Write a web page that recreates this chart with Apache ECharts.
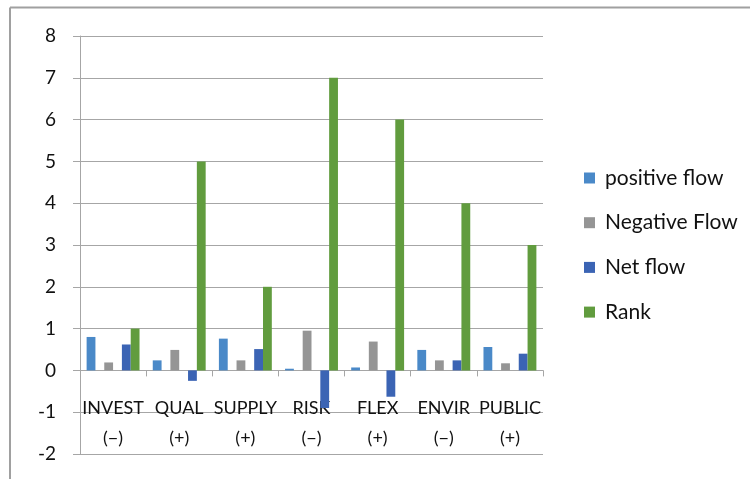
<!DOCTYPE html>
<html>
<head>
    <meta charset="utf-8">
    <title>Flows and rank</title>
    <script src="https://cdn.jsdelivr.net/npm/echarts@6/dist/echarts.min.js"></script>
    <style>
        body { margin: 0; background: #fff; }
        #main { width: 756px; height: 479px; }
    </style>
</head>
<body>
    <div id="main"></div>
    <script type="text/javascript">
        // chart data
        var categories = ['INVEST\n(\u2212)', 'QUAL\n(+)', 'SUPPLY\n(+)', 'RISK\n(\u2212)', 'FLEX\n(+)', 'ENVIR\n(\u2212)', 'PUBLIC\n(+)'];
        var positiveFlow = [0.80, 0.24, 0.76, 0.04, 0.07, 0.49, 0.56];
        var negativeFlow = [0.19, 0.49, 0.24, 0.95, 0.69, 0.24, 0.17];
        var netFlow = [0.62, -0.25, 0.51, -0.90, -0.63, 0.24, 0.40];
        var rank = [1, 5, 2, 7, 6, 4, 3];
        // empty slots: the original chart leaves a bar-wide gap after the first two series
        var emptySlot = [null, null, null, null, null, null, null];

        var myChart = echarts.init(document.getElementById('main'));

        var font = 'Lato, "Open Sans", sans-serif';
        var gridGray = '#a6a6a6';

        function bar(name, data, color) {
            return {
                name: name,
                type: 'bar',
                barGap: 0,
                barCategoryGap: '20%',
                itemStyle: { color: color },
                data: data
            };
        }

        var option = {
            animation: false,
            backgroundColor: '#fff',
            graphic: [
                { type: 'line', shape: { x1: 10, y1: 7.5, x2: 750, y2: 7.5 }, style: { stroke: '#a0a0a0', lineWidth: 2 } },
                { type: 'line', shape: { x1: 10, y1: 7.5, x2: 10, y2: 479 }, style: { stroke: '#a0a0a0', lineWidth: 2 } }
            ],
            legend: {
                data: ['positive flow', 'Negative Flow', 'Net flow', 'Rank'],
                orient: 'vertical',
                left: 584,
                top: 167,
                padding: 0,
                itemWidth: 11,
                itemHeight: 11,
                itemGap: 22.7,
                icon: 'rect',
                textStyle: {
                    fontFamily: font,
                    fontSize: 21,
                    lineHeight: 22,
                    color: '#111',
                    padding: [0, 0, 0, 5]
                }
            },
            grid: {
                left: 80,
                top: 36,
                width: 463,
                height: 418,
                outerBoundsMode: 'none',
                containLabel: false
            },
            xAxis: {
                type: 'category',
                data: categories,
                axisLine: { onZero: true, lineStyle: { color: gridGray, width: 1 } },
                axisTick: { show: true, interval: 0, length: 6, lineStyle: { color: gridGray } },
                axisLabel: {
                    interval: 0,
                    margin: -61,
                    fontFamily: font,
                    fontSize: 18,
                    lineHeight: 30,
                    color: '#111'
                },
                splitLine: { show: false }
            },
            yAxis: {
                type: 'value',
                min: -2,
                max: 8,
                interval: 1,
                axisLine: { show: true, lineStyle: { color: gridGray, width: 1 } },
                axisTick: { show: true, length: 7, lineStyle: { color: gridGray } },
                axisLabel: {
                    margin: 24,
                    fontFamily: font,
                    fontSize: 19,
                    color: '#111'
                },
                splitLine: { show: true, lineStyle: { color: gridGray, width: 1 } }
            },
            series: [
                bar('positive flow', positiveFlow, '#4a89c8'),
                bar('gap1', emptySlot, 'transparent'),
                bar('Negative Flow', negativeFlow, '#959595'),
                bar('gap2', emptySlot, 'transparent'),
                bar('Net flow', netFlow, '#3b64b4'),
                bar('Rank', rank, '#619c3e')
            ]
        };

        myChart.setOption(option);
    </script>
</body>
</html>
